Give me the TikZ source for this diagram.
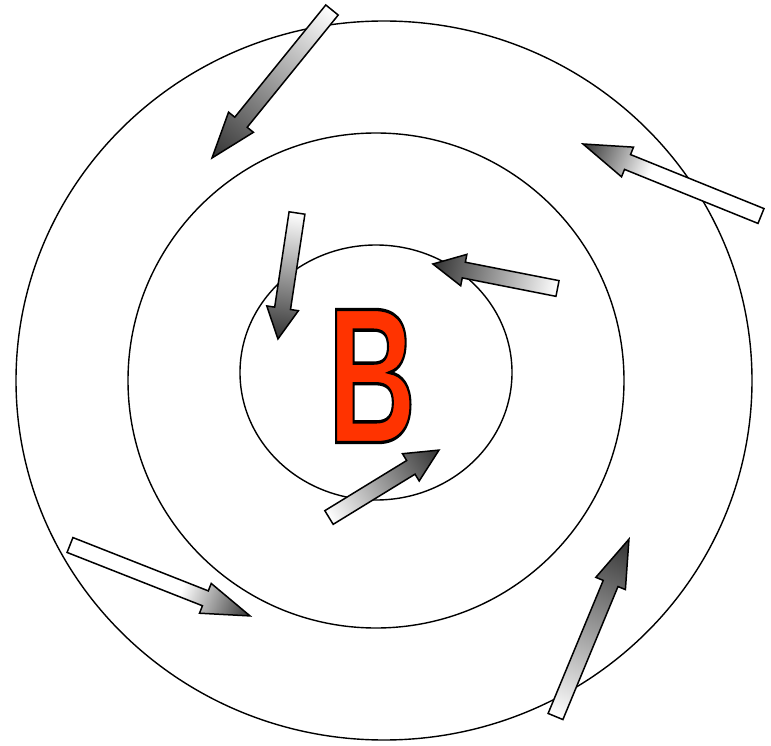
\documentclass[tikz,border=0pt]{standalone}
\usepackage{fontspec}
\usepackage{graphicx}
\newfontfamily\bletterfont[FakeBold=1.7]{Liberation Sans Bold}
\definecolor{bred}{HTML}{FF3300}
\pgfdeclarehorizontalshading{fadefull}{100bp}{color(0bp)=(white); color(25bp)=(white); color(75bp)=(black!80); color(100bp)=(black!80)}
\pgfdeclarehorizontalshading{fadehead}{100bp}{color(0bp)=(white); color(56bp)=(white); color(75bp)=(black!80); color(100bp)=(black!80)}
% red glyph, its fake-bold stroke in black
\newcommand{\bglyph}{\resizebox{!}{133pt}{\scalebox{0.63}[1]{\special{pdf:code 0 0 0 RG}\bletterfont B}}}
% tail x, tail y, angle, length, head length, shading
\newcommand{\fatarrow}[6]{%
  \begin{scope}[transform canvas={shift={(#1,#2)}, rotate=#3}]
    \path[fatbody, shading=#6] (0,8) -- (#4-#5,8) -- (#4-#5,16) -- (#4,0)
      -- (#4-#5,-16) -- (#4-#5,-8) -- (0,-8) -- cycle;
  \end{scope}}

\begin{document}
\begin{tikzpicture}[
  x=1pt, y=-1pt,
  ring/.style={draw=black, line width=1.4pt},
  fatbody/.style={draw=black, line width=1.5pt, shade},
  bletter/.style={inner sep=0pt, text=bred}
]
\fill[white] (0,0) rectangle (771,746);
\useasboundingbox (0,0) rectangle (771,746);

\draw[ring] (384,380.5) ellipse [x radius=368, y radius=359.5];
\draw[ring] (376,380.5) ellipse [x radius=248, y radius=247.5];
\draw[ring] (376,372.5) ellipse [x radius=136, y radius=127.5];

\fatarrow{332}{10}{230.96}{190.5}{46}{fadefull}
\fatarrow{761}{216}{157.97}{192}{48}{fadehead}
\fatarrow{297}{213}{-98.6}{127.4}{31}{fadefull}
\fatarrow{557.5}{288.5}{168.87}{127}{31.5}{fadefull}
\fatarrow{329}{517.5}{31.5}{129}{33}{fadefull}
\fatarrow{70}{545}{-21.5}{193.5}{48}{fadehead}
\fatarrow{555.5}{716.5}{67.5}{192}{48}{fadefull}

\node[bletter] (bmark) at (372,376) {\bglyph};
\end{tikzpicture}
\end{document}
